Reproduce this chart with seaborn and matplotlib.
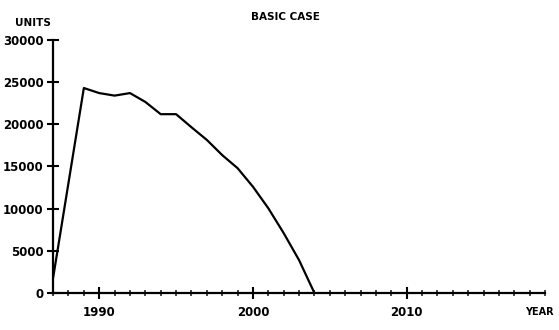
import numpy as np
import pandas as pd
import matplotlib
matplotlib.use("Agg")
import matplotlib.pyplot as plt
from matplotlib.ticker import MultipleLocator
import seaborn as sns

# values
years = [1987, 1989, 1990, 1991, 1992, 1993, 1994, 1995, 1996, 1997,
         1998, 1999, 2000, 2001, 2002, 2003, 2004]
units = [1800, 24300, 23700, 23400, 23700, 22650, 21200, 21200, 19650,
         18150, 16350, 14800, 12600, 10050, 7100, 3900, 0]
title = "BASIC CASE"

df = pd.DataFrame({"year": years, "units": units})

sns.set_style("ticks")
plt.rcParams['font.family'] = ['DejaVu Sans']

fig = plt.figure(figsize=(5.59, 3.30), dpi=100)
ax = fig.add_axes([0.095, 0.112, 0.88, 0.767])
sns.lineplot(data=df, x="year", y="units", color="k", lw=1.6, ax=ax)

ax.set_xlim(1987, 2019)
ax.set_ylim(0, 30000)
ax.set_xticks([1990, 2000, 2010])
ax.xaxis.set_minor_locator(MultipleLocator(1))
ax.set_yticks(range(0, 30001, 5000))
ax.tick_params(axis='both', which='major', direction='inout', length=8, width=1.5,
               labelsize=8.5, colors='k')
ax.tick_params(axis='x', which='minor', direction='inout', length=5, width=1.2)
for lab in ax.get_xticklabels() + ax.get_yticklabels():
    lab.set_fontweight('bold')
ax.tick_params(axis='y', pad=3)
ax.tick_params(axis='x', pad=5)

sns.despine(ax=ax)
for s in ['left', 'bottom']:
    ax.spines[s].set_linewidth(1.6)
    ax.spines[s].set_color('k')

ax.set_xlabel("")
ax.set_ylabel("")
fig.text(0.027, 0.93, "UNITS", fontsize=7.5, fontweight='bold', va='center', color='k')
fig.text(0.51, 0.948, title, fontsize=7.5, fontweight='bold', ha='center', va='center', color='k')
fig.text(0.99, 0.055, "YEAR", fontsize=7, fontweight='bold', ha='right', va='center', color='k')

fig.savefig("out.png", dpi=100)
